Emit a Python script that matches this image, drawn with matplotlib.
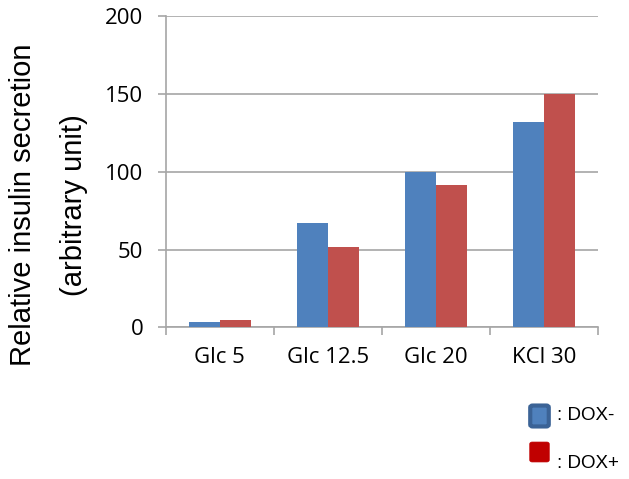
import matplotlib

matplotlib.use("Agg")
import matplotlib.pyplot as plt
import numpy as np
from matplotlib.patches import FancyBboxPatch

plt.rcParams["font.family"] = ["Open Sans", "DejaVu Sans"]

categories = ["Glc 5", "Glc 12.5", "Glc 20", "KCl 30"]
dox_minus = [3.3, 67, 100, 132]
dox_plus = [4.8, 52, 91.5, 150]
yticks = [0, 50, 100, 150, 200]

BLUE = "#4F81BD"
RED = "#C0504D"
GRID = "#A6A6A6"

fig = plt.figure(figsize=(6.29, 4.79), dpi=100)
ax = fig.add_axes([0.2634, 0.3163, 0.6873, 0.6493])

x = np.arange(len(categories))
w = 0.285
ax.bar(x - w / 2, dox_minus, w, color=BLUE, zorder=3)
ax.bar(x + w / 2, dox_plus, w, color=RED, zorder=3)

ax.set_xlim(-0.5, len(categories) - 0.5)
ax.set_ylim(0, 200)
ax.set_yticks(yticks)
ax.set_yticklabels([str(t) for t in yticks], fontsize=16)
ax.yaxis.grid(True, color=GRID, linewidth=1.2, zorder=0)

# category labels centred, tick marks on the boundaries
ax.set_xticks(np.arange(len(categories) + 1) - 0.5)
ax.set_xticklabels([])
ax.set_xticks(x, minor=True)
ax.set_xticklabels(categories, minor=True, fontsize=16)
ax.tick_params(axis="x", which="minor", length=0, pad=14)
ax.tick_params(axis="x", which="major", length=6, width=1.2, color=GRID)
ax.tick_params(axis="y", length=6, width=1.2, color=GRID, pad=10)

for side in ("top", "right"):
    ax.spines[side].set_visible(False)
for side in ("left", "bottom"):
    ax.spines[side].set_color(GRID)
    ax.spines[side].set_linewidth(1.2)

fig.text(0.037, 0.572, "Relative insulin secretion", rotation=90,
         ha="center", va="center", fontsize=21, family="Liberation Sans")
fig.text(0.118, 0.572, "(arbitrary unit)", rotation=90,
         ha="center", va="center", fontsize=21, family="Liberation Sans")

# legend keys drawn by hand
fig.patches.append(FancyBboxPatch(
    (531.5 / 629, 1 - 425.5 / 479), 16 / 629, 19 / 479,
    boxstyle="round,pad=0.002,rounding_size=0.004",
    facecolor=BLUE, edgecolor="#3B6396", linewidth=3,
    transform=fig.transFigure, figure=fig))
fig.patches.append(FancyBboxPatch(
    (531 / 629, 1 - 461 / 479), 17 / 629, 18 / 479,
    boxstyle="round,pad=0.002,rounding_size=0.004",
    facecolor="#C00000", edgecolor="#C00000", linewidth=0.5,
    transform=fig.transFigure, figure=fig))
fig.text(557 / 629, 1 - 416 / 479, ": DOX-", ha="left", va="center",
         fontsize=13.5, family="Liberation Sans")
fig.text(557 / 629, 1 - 463 / 479, ": DOX+", ha="left", va="center",
         fontsize=13.5, family="Liberation Sans")

fig.savefig("out.png", dpi=100)
